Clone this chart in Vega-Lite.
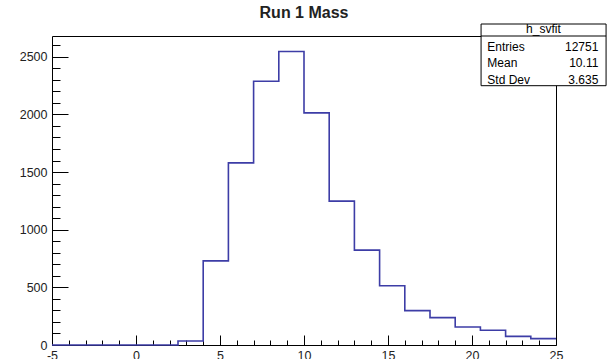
{
  "$schema": "https://vega.github.io/schema/vega-lite/v6.json",
  "width": 504,
  "height": 309,
  "autosize": {"type": "none"},
  "padding": {"left": 52, "top": 36, "right": 53, "bottom": 14},
  "background": "white",
  "config": {
    "view": {"stroke": "black", "strokeWidth": 1},
    "font": "Liberation Sans",
    "axis": {"grid": false, "domain": false, "tickColor": "black", "tickWidth": 1, "labelFont": "Liberation Sans", "labelFontSize": 12.5, "labelColor": "#222", "labelFlush": false, "labelBound": false, "labelOverlap": false, "format": "d"}
  },
  "title": {"text": "Run 1 Mass", "font": "Liberation Sans", "fontSize": 16, "fontWeight": "bold", "color": "#222", "anchor": "middle", "frame": "group", "baseline": "alphabetic", "offset": -11},
  "datasets": {
    "bins": [
      {"lo": -5, "hi": -3.5, "n": 0},
      {"lo": -3.5, "hi": -2, "n": 0},
      {"lo": -2, "hi": -0.5, "n": 0},
      {"lo": -0.5, "hi": 1, "n": 0},
      {"lo": 1, "hi": 2.5, "n": 0},
      {"lo": 2.5, "hi": 4, "n": 35},
      {"lo": 4, "hi": 5.5, "n": 730},
      {"lo": 5.5, "hi": 7, "n": 1580},
      {"lo": 7, "hi": 8.5, "n": 2288},
      {"lo": 8.5, "hi": 10, "n": 2545},
      {"lo": 10, "hi": 11.5, "n": 2013},
      {"lo": 11.5, "hi": 13, "n": 1248},
      {"lo": 13, "hi": 14.5, "n": 823},
      {"lo": 14.5, "hi": 16, "n": 514},
      {"lo": 16, "hi": 17.5, "n": 298},
      {"lo": 17.5, "hi": 19, "n": 237},
      {"lo": 19, "hi": 20.5, "n": 156},
      {"lo": 20.5, "hi": 22, "n": 128},
      {"lo": 22, "hi": 23.5, "n": 75},
      {"lo": 23.5, "hi": 25, "n": 55}
    ],
    "one": [{}]
  },
  "layer": [
    {
      "data": {"name": "bins"},
      "transform": [{"fold": ["lo", "hi"], "as": ["edge", "xe"]}],
      "mark": {"type": "line", "color": "#3d3da6", "strokeWidth": 1.6, "clip": false},
      "encoding": {
        "x": {"field": "xe", "type": "quantitative", "scale": {"domain": [-5, 25], "nice": false, "zero": false},
          "axis": {"orient": "bottom", "title": null, "values": [-5, 0, 5, 10, 15, 20, 25], "tickSize": -10, "labelPadding": 14, "labelExpr": "datum.value < 0 ? '-' + abs(datum.value) : datum.label"}},
        "y": {"field": "n", "type": "quantitative", "scale": {"domain": [0, 2680], "nice": false, "zero": false},
          "axis": {"orient": "left", "title": null, "values": [0, 500, 1000, 1500, 2000, 2500], "tickSize": -16, "labelPadding": 21}},
        "order": {"value": null}
      }
    },
    {
      "data": {"name": "one"},
      "mark": {"type": "rect", "fill": "white", "stroke": "black", "strokeWidth": 1, "clip": false},
      "encoding": {
        "x": {"datum": 20.54, "type": "quantitative", "scale": {"domain": [-5, 25], "nice": false, "zero": false},
          "axis": {"orient": "bottom", "title": null, "values": [-4, -3, -2, -1, 1, 2, 3, 4, 6, 7, 8, 9, 11, 12, 13, 14, 16, 17, 18, 19, 21, 22, 23, 24], "tickSize": -5, "labels": false}},
        "x2": {"datum": 27.98},
        "y": {"datum": 2784, "type": "quantitative", "scale": {"domain": [0, 2680], "nice": false, "zero": false},
          "axis": {"orient": "left", "title": null, "values": [100, 200, 300, 400, 600, 700, 800, 900, 1100, 1200, 1300, 1400, 1600, 1700, 1800, 1900, 2100, 2200, 2300, 2400, 2600], "tickSize": -8, "labels": false}},
        "y2": {"datum": 2249}
      }
    },
    {
      "data": {"name": "one"},
      "mark": {"type": "rule", "color": "black", "strokeWidth": 1, "clip": false},
      "encoding": {
        "x": {"datum": 20.54, "type": "quantitative", "axis": null},
        "x2": {"datum": 27.98},
        "y": {"datum": 2680, "type": "quantitative", "axis": null}
      }
    },
    {
      "data": {"name": "one"},
      "mark": {"type": "text", "font": "Liberation Sans", "fontSize": 12, "color": "black", "align": "center", "baseline": "alphabetic", "clip": false},
      "encoding": {
        "x": {"datum": 24.25, "type": "quantitative", "axis": null},
        "y": {"datum": 2710, "type": "quantitative", "axis": null},
        "text": {"value": "h_svfit"}
      }
    },
    {
      "data": {"name": "one"},
      "mark": {"type": "text", "font": "Liberation Sans", "fontSize": 12, "color": "black", "align": "left", "baseline": "alphabetic", "lineHeight": 16.5, "clip": false},
      "encoding": {
        "x": {"datum": 20.91, "type": "quantitative", "axis": null},
        "y": {"datum": 2550, "type": "quantitative", "axis": null},
        "text": {"value": ["Entries", "Mean", "Std Dev"]}
      }
    },
    {
      "data": {"name": "one"},
      "mark": {"type": "text", "font": "Liberation Sans", "fontSize": 12, "color": "black", "align": "right", "baseline": "alphabetic", "lineHeight": 16.5, "clip": false},
      "encoding": {
        "x": {"datum": 27.52, "type": "quantitative", "axis": null},
        "y": {"datum": 2550, "type": "quantitative", "axis": null},
        "text": {"value": ["12751", "10.11", "3.635"]}
      }
    }
  ],
  "resolve": {"axis": {"x": "independent", "y": "independent"}}
}
